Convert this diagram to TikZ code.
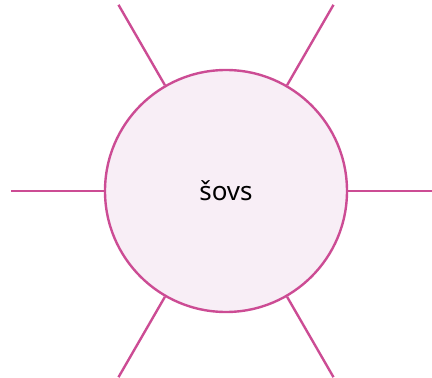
\documentclass[tikz,border=0pt]{standalone}
\usepackage{fontspec}
\setmainfont{Noto Sans}
\usetikzlibrary{calc}
\definecolor{rayline}{HTML}{CC4C94}
\definecolor{sunfill}{HTML}{F8EEF6}

\begin{document}
\begin{tikzpicture}[x=1pt,y=1pt,
  sun/.style={circle,draw=rayline,fill=sunfill,line width=2.4pt,minimum size=242pt,inner sep=0pt,font=\fontsize{26}{31}\selectfont},
  ray/.style={draw=rayline,line width=2.4pt}]
\useasboundingbox (-226,-187) rectangle (206,191);
\node[sun] (sov) at (0,0) {šovs};
\foreach \a in {0,60,120,180,240,300}{
  \coordinate (end\a) at (\a:215);
  \draw[ray] (sov.\a) -- (end\a);
}
\end{tikzpicture}
\end{document}
